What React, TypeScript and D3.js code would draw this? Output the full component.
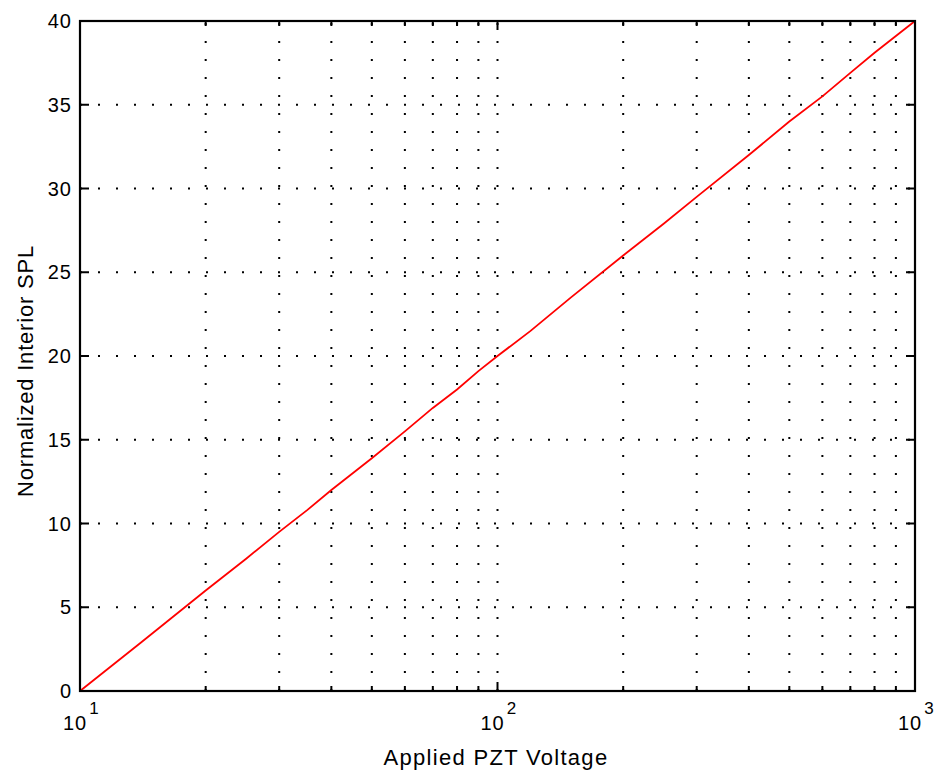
import React from 'react';
import { scaleLog, scaleLinear, line } from 'd3';

// values
const voltage = [10, 14, 20, 25, 30, 35, 40, 45, 50, 60, 70, 80, 90, 100, 120, 150, 200, 250, 300, 400, 500, 600, 700, 800, 1000];
const spl = [0, 2.9, 6.0, 7.9, 9.5, 10.8, 12.0, 13.0, 13.9, 15.5, 16.9, 18.0, 19.1, 20.0, 21.5, 23.5, 26.0, 27.9, 29.5, 32.0, 34.0, 35.5, 36.9, 38.1, 40.0];
const yTicks = [0, 5, 10, 15, 20, 25, 30, 35, 40];
const xMajor = [10, 100, 1000];
const xMinor = [20, 30, 40, 50, 60, 70, 80, 90, 200, 300, 400, 500, 600, 700, 800, 900];

const W = 938;
const H = 772;
const margin = { top: 21, right: 23, bottom: 81, left: 80 };

const App = () => {
  const x0 = margin.left;
  const x1 = W - margin.right;
  const y0 = H - margin.bottom;
  const y1 = margin.top;

  const xScale = scaleLog().domain([10, 1000]).range([x0, x1]);
  const yScale = scaleLinear().domain([0, 40]).range([y0, y1]);

  const path = line<number>()
    .x((d, i) => xScale(voltage[i]))
    .y(d => yScale(d))(spl);

  const font = '"Liberation Sans", Arial, sans-serif';
  const gridStyle = { stroke: 'black', strokeWidth: 2, strokeDasharray: '2,16' };

  return (
    <svg width={W} height={H} style={{ position: 'absolute', left: 0, top: 0, background: 'white' }}>
      <rect x={0} y={0} width={W} height={H} fill="white" />
      {/* grid */}
      {[...xMinor, 100].map(v => (
        <line key={'gx' + v} x1={xScale(v)} x2={xScale(v)} y1={y0} y2={y1} style={gridStyle} />
      ))}
      {yTicks.slice(1, -1).map(v => (
        <line key={'gy' + v} x1={x0} x2={x1} y1={yScale(v)} y2={yScale(v)} style={gridStyle} />
      ))}
      {/* ticks */}
      {xMinor.map(v => (
        <g key={'tm' + v}>
          <line x1={xScale(v)} x2={xScale(v)} y1={y0} y2={y0 - 5} stroke="black" strokeWidth={2} />
          <line x1={xScale(v)} x2={xScale(v)} y1={y1} y2={y1 + 5} stroke="black" strokeWidth={2} />
        </g>
      ))}
      {xMajor.map(v => (
        <g key={'tM' + v}>
          <line x1={xScale(v)} x2={xScale(v)} y1={y0} y2={y0 - 9} stroke="black" strokeWidth={2} />
          <line x1={xScale(v)} x2={xScale(v)} y1={y1} y2={y1 + 9} stroke="black" strokeWidth={2} />
          <text x={xScale(v) - 5} y={730} textAnchor="middle" fontFamily={font} fontSize={20} letterSpacing={1}>10</text>
          <text x={xScale(v) + 14} y={714} textAnchor="middle" fontFamily={font} fontSize={17}>{Math.round(Math.log10(v))}</text>
        </g>
      ))}
      {yTicks.map(v => (
        <g key={'ty' + v}>
          <line x1={x0} x2={x0 + 9} y1={yScale(v)} y2={yScale(v)} stroke="black" strokeWidth={2} />
          <line x1={x1} x2={x1 - 9} y1={yScale(v)} y2={yScale(v)} stroke="black" strokeWidth={2} />
          <text x={72} y={yScale(v) + 7} textAnchor="end" fontFamily={font} fontSize={20} letterSpacing={1}>{v}</text>
        </g>
      ))}
      {/* data */}
      <path d={path || ''} fill="none" stroke="red" strokeWidth={1.8} />
      {/* frame */}
      <rect x={x0} y={y1} width={x1 - x0} height={y0 - y1} fill="none" stroke="black" strokeWidth={2.2} />
      {/* labels */}
      <text x={496} y={765} textAnchor="middle" fontFamily={font} fontSize={22} letterSpacing={1.3}>Applied PZT Voltage</text>
      <text transform={`translate(33, 371) rotate(-90)`} textAnchor="middle" fontFamily={font} fontSize={22} letterSpacing={0.8}>Normalized Interior SPL</text>
    </svg>
  );
};

export default App;
